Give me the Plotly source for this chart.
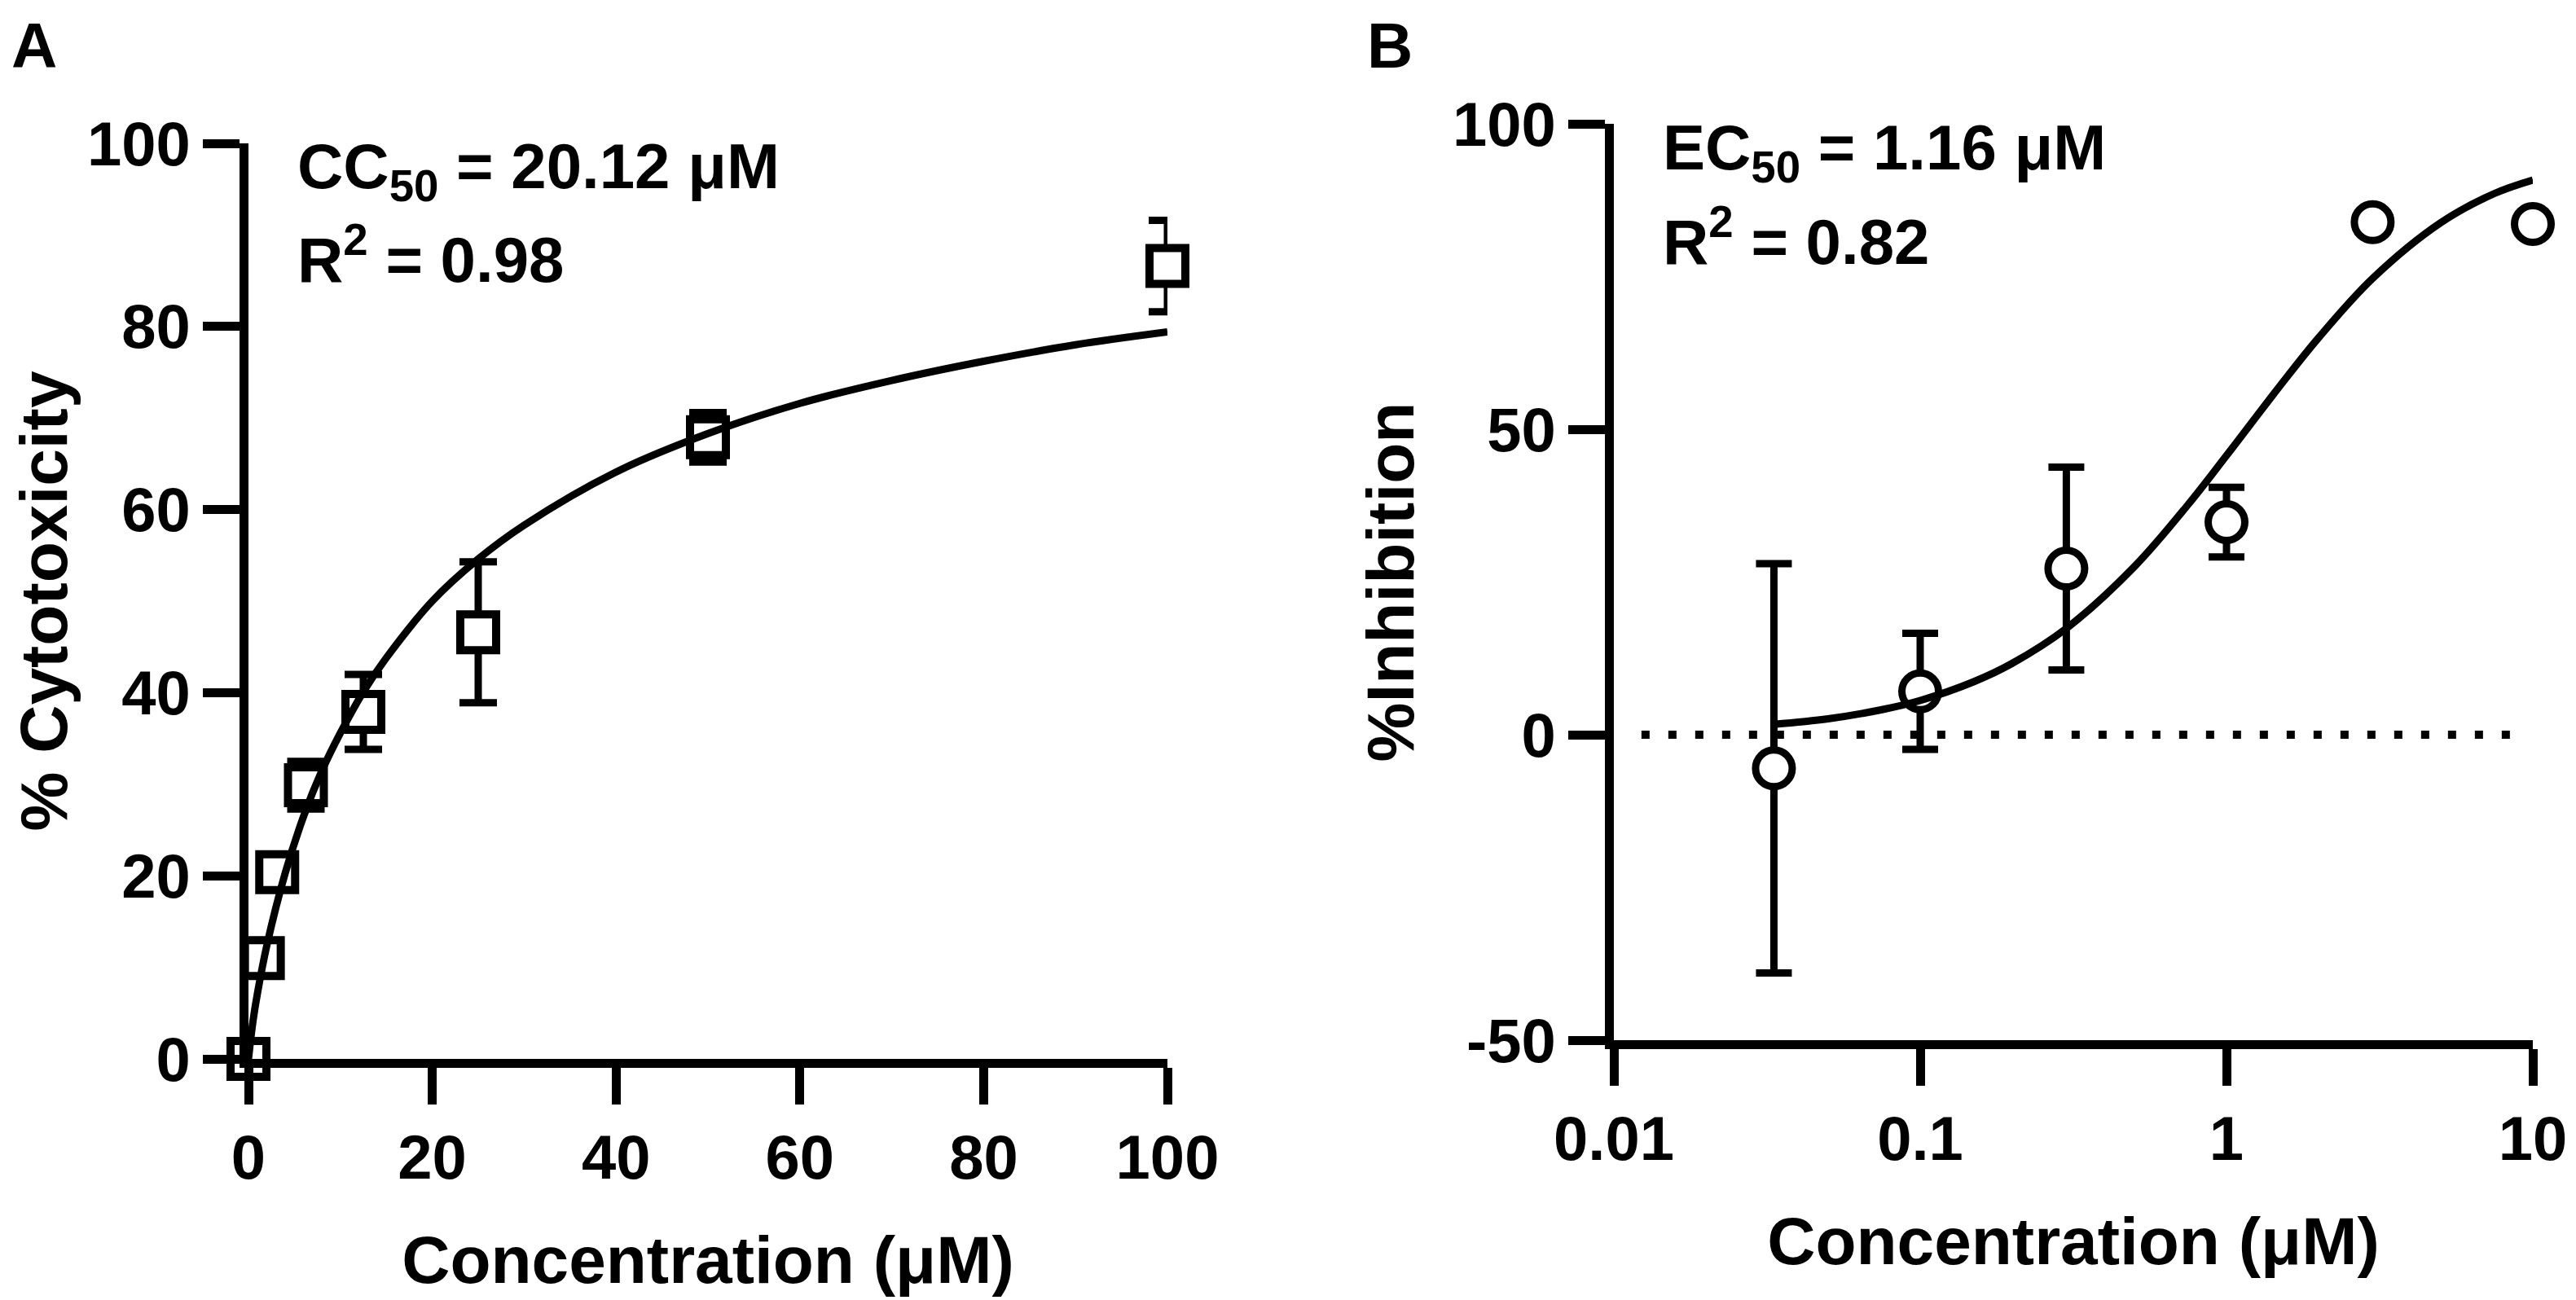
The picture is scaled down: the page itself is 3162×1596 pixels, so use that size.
import plotly.graph_objects as go

# ---- data ----
# panel A: cytotoxicity, linear x
conc_a = [0, 1.5625, 3.125, 6.25, 12.5, 25, 50, 100]
cyto_mean = [0, 11, 20.4, 29.9, 37.9, 46.6, 67.9, 86.6]
cyto_err = [0.5, 1, 1, 2.6, 4.1, 7.7, 2.7, 5]

# fitted curve A
fit_a_x = [0, 0.5, 1, 2, 4, 6, 8, 10, 12.5, 15, 20, 25, 30, 40, 50, 60, 70, 80, 90, 100]
fit_a_y = [0, 4.2, 7.3, 12.4, 20.3, 26.5, 31.5, 35.6, 40.1, 43.8, 50, 54.6, 58.3,
           64.1, 68.3, 71.6, 74.1, 76.2, 78, 79.4]

# panel B: inhibition, log x
conc_b = [0.0333, 0.1, 0.3, 1, 3, 10]
inhib_mean = [-5.5, 7.1, 27.2, 34.8, 83.9, 83.6]
inhib_err = [33.5, 9.5, 16.6, 5.7, 1.5, 1.5]

# fitted curve B
fit_b_x = [0.0333, 0.05, 0.075, 0.1, 0.15, 0.2, 0.3, 0.5, 0.75, 1, 1.5, 2, 3, 5, 7.5, 10]
fit_b_y = [1.7, 2.6, 4.1, 5.6, 8.7, 11.7, 17.4, 27.5, 37.7, 45.7, 57.2, 65, 74.7,
           83.8, 88.6, 90.8]

ticks_a = [0, 20, 40, 60, 80, 100]
ticks_b_y = [-50, 0, 50, 100]
ticks_b_y_text = ["-50", "0", "50", "100"]
ticks_b_x = [0.01, 0.1, 1, 10]
ticks_b_x_text = ["0.01", "0.1", "1", "10"]

W, H = 3162, 1596
OFF = 8  # page margin of the browser
FONT = "Liberation Sans, Arial, sans-serif"
BLACK = "black"


def px_x(p):
    return (p - OFF) / W


def px_y(p):
    return 1 - (p - OFF) / H


fig = go.Figure()

# Panel A points
fig.add_trace(go.Scatter(
    x=conc_a, y=cyto_mean, mode="markers", xaxis="x", yaxis="y",
    marker=dict(symbol="square", size=44, color="white",
                line=dict(color=BLACK, width=10)),
    error_y=dict(type="data", array=cyto_err, color=BLACK, thickness=9, width=23),
    cliponaxis=False, showlegend=False))
fig.add_trace(go.Scatter(
    x=fit_a_x, y=fit_a_y, mode="lines", xaxis="x", yaxis="y",
    line=dict(color=BLACK, width=9, shape="spline"),
    cliponaxis=False, showlegend=False))

# Panel B points
fig.add_trace(go.Scatter(
    x=conc_b, y=inhib_mean, mode="markers", xaxis="x2", yaxis="y2",
    marker=dict(symbol="circle", size=45, color="white",
                line=dict(color=BLACK, width=9)),
    error_y=dict(type="data", array=inhib_err, color=BLACK, thickness=9, width=22),
    cliponaxis=False, showlegend=False))
fig.add_trace(go.Scatter(
    x=fit_b_x, y=fit_b_y, mode="lines", xaxis="x2", yaxis="y2",
    line=dict(color=BLACK, width=9, shape="spline"),
    cliponaxis=False, showlegend=False))

# dotted zero line on panel B
fig.add_shape(type="line", xref="x2 domain", yref="y2", x0=0.03, x1=0.99, y0=0, y1=0,
              line=dict(color=BLACK, width=10, dash="10px,23px"), layer="below")

axis_style = dict(showline=True, linewidth=11, linecolor=BLACK, ticks="outside",
                  ticklen=45, tickwidth=11, tickcolor=BLACK, showgrid=False,
                  zeroline=False, automargin=False,
                  tickfont=dict(family=FONT, size=76, color=BLACK, weight="bold"),
                  title_font=dict(family=FONT, size=82, color=BLACK, weight="bold"))

fig.update_layout(
    width=W, height=H, paper_bgcolor="white", plot_bgcolor="white",
    margin=dict(l=0, r=0, t=0, b=0),
    xaxis=dict(domain=[px_x(305), px_x(1433)], range=[0, 100], tickvals=ticks_a,
               anchor="y", title=dict(text="Concentration (μM)", standoff=60), **axis_style),
    yaxis=dict(domain=[px_y(1300), px_y(176)], range=[0, 100], tickvals=ticks_a,
               anchor="x", title=dict(text="% Cytotoxicity", standoff=25), **axis_style),
    xaxis2=dict(domain=[px_x(1981), px_x(3109)], type="log", range=[-2, 1],
                tickvals=ticks_b_x, ticktext=ticks_b_x_text,
                anchor="y2", title=dict(text="Concentration (μM)", standoff=60), **axis_style),
    yaxis2=dict(domain=[px_y(1277), px_y(152)], range=[-50, 100], tickvals=ticks_b_y,
                ticktext=ticks_b_y_text,
                anchor="x2", title=dict(text="%Inhibition", standoff=25), **axis_style),
)

ann_font = dict(family=FONT, size=78, color=BLACK, weight="bold")
notes = [
    ("A", 12, 56),
    ("B", 1676, 56),
    ("CC<sub>50</sub> = 20.12 μM", 363, 210),
    ("R<sup>2</sup> = 0.98", 363, 314),
    ("EC<sub>50</sub> = 1.16 μM", 2039, 187),
    ("R<sup>2</sup> = 0.82", 2039, 291),
]
for text, px, py in notes:
    fig.add_annotation(text=text, x=px_x(px), y=px_y(py), xref="paper", yref="paper",
                       xanchor="left", yanchor="middle", showarrow=False, font=ann_font)

fig.write_html("out.html")
